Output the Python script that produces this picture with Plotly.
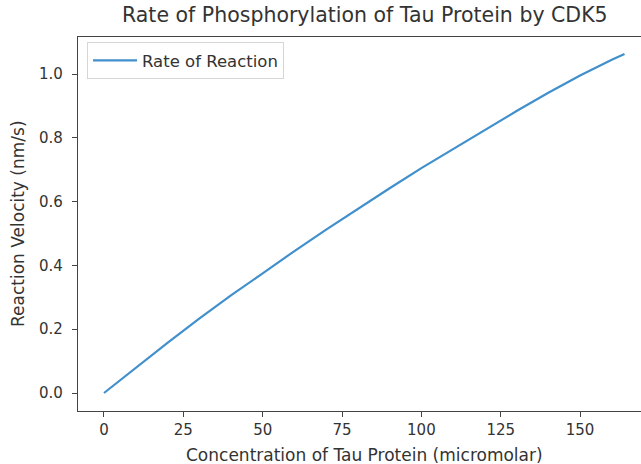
import plotly.graph_objects as go

# Data
concentration = [0, 10, 20, 30, 40, 50, 60, 70, 80, 90, 100, 110, 120, 130, 140, 150, 160, 164]
velocity = [0.0, 0.080, 0.157, 0.233, 0.306, 0.375, 0.445, 0.512, 0.578, 0.642,
             0.705, 0.765, 0.826, 0.884, 0.941, 0.995, 1.045, 1.063]
x_ticks = [0, 25, 50, 75, 100, 125, 150]
y_ticks = [0.0, 0.2, 0.4, 0.6, 0.8, 1.0]
y_tick_labels = ["0.0", "0.2", "0.4", "0.6", "0.8", "1.0"]

FONT = "DejaVu Sans"
TXT = "#333333"

fig = go.Figure()
fig.add_trace(go.Scatter(
    x=concentration, y=velocity, mode="lines", name="Rate of Reaction",
    line=dict(color="#4190cc", width=2.2),
))

fig.update_layout(
    width=641, height=464,
    margin=dict(l=78, r=0, t=37, b=53),
    paper_bgcolor="white", plot_bgcolor="white",
    font=dict(family=FONT, size=15, color=TXT),
    showlegend=True,
    legend=dict(x=0.016, y=0.986, xanchor="left", yanchor="top",
                bordercolor="#d6d6d6", borderwidth=1, bgcolor="white",
                font=dict(family=FONT, size=16.5, color=TXT),
                itemwidth=44, tracegroupgap=0),
    annotations=[
        dict(text="Rate of Phosphorylation of Tau Protein by CDK5", xref="paper", yref="paper",
             x=0.509, y=1.0, yshift=8, xanchor="center", yanchor="bottom", showarrow=False,
             font=dict(family=FONT, size=20.5, color=TXT)),
        dict(text="Concentration of Tau Protein (micromolar)", xref="paper", yref="paper",
             x=0.509, y=0, yshift=-32, xanchor="center", yanchor="top", showarrow=False,
             font=dict(family=FONT, size=17, color=TXT)),
        dict(text="Reaction Velocity (nm/s)", xref="paper", yref="paper",
             x=0, xshift=-60, y=0.5, xanchor="center", yanchor="middle", showarrow=False,
             textangle=-90, font=dict(family=FONT, size=17, color=TXT)),
    ],
)

fig.update_xaxes(
    range=[-8.19, 169.2], tickvals=x_ticks, showgrid=False, zeroline=False,
    showline=True, linecolor="#444444", linewidth=1.3, mirror=True,
    ticks="outside", ticklen=5, tickcolor="#444444",
    tickfont=dict(family=FONT, size=15, color=TXT),
)
fig.update_yaxes(
    range=[-0.0564, 1.116], tickvals=y_ticks, ticktext=y_tick_labels,
    showgrid=False, zeroline=False,
    showline=True, linecolor="#444444", linewidth=1.3,
    ticks="outside", ticklen=5, tickcolor="#444444",
    tickfont=dict(family=FONT, size=15, color=TXT),
    ticklabelstandoff=6,
)

fig.write_html("out.html")
